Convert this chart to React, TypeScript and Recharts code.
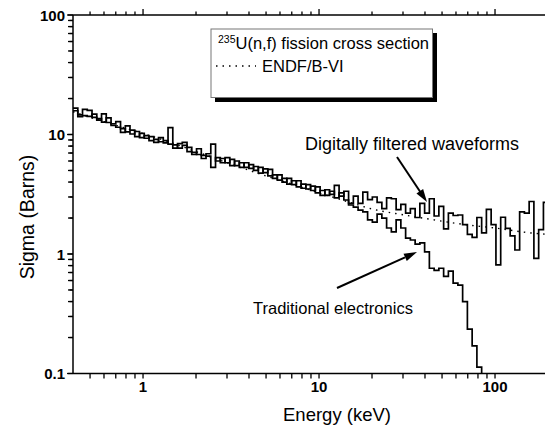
import React from 'react';
import { LineChart, Line, XAxis, YAxis, ReferenceLine } from 'recharts';

// Bin edges (keV)
const energies = [0.4, 0.426, 0.453, 0.482, 0.513, 0.546, 0.581, 0.618, 0.658, 0.7, 0.745, 0.793, 0.843, 0.897, 0.955, 1.016, 1.081, 1.151, 1.225, 1.303, 1.387, 1.476, 1.57, 1.671, 1.778, 1.892, 2.014, 2.143, 2.28, 2.427, 2.582, 2.748, 2.924, 3.112, 3.311, 3.524, 3.75, 3.99, 4.246, 4.519, 4.808, 5.117, 5.445, 5.794, 6.166, 6.561, 6.982, 7.43, 7.907, 8.414, 8.954, 9.528, 10.14, 10.79, 11.48, 12.22, 13.0, 13.84, 14.72, 15.67, 16.67, 17.74, 18.88, 20.09, 21.38, 22.75, 24.21, 25.76, 27.42, 29.17, 31.05, 33.04, 35.16, 37.41, 39.81, 42.36, 45.08, 47.97, 51.05, 54.33, 57.81, 61.52, 65.46, 69.66, 74.13, 78.89, 83.95, 89.33, 95.06, 101.2, 107.7, 114.6, 121.9, 129.7, 138.0, 146.9, 156.3, 166.3, 177.0, 188.4, 200];

// Digitally filtered waveforms (barns)
const digital = [15.8, 14.6, 16.2, 15.9, 13.9, 13.2, 14.9, 12.6, 12.3, 12.8,
  10.4, 11.8, 10.9, 9.6, 10.2, 9.3, 9.6, 9.1, 8.7, 8.5,
  11.4, 7.7, 8.4, 8.6, 7.2, 6.8, 7.6, 6.3, 6.9, 8.3,
  6.0, 6.3, 5.8, 6.2, 5.5, 5.8, 5.3, 5.6, 5.0, 5.3,
  4.8, 5.1, 4.3, 4.6, 4.0, 4.3, 3.8, 4.1, 3.55, 3.8,
  3.4, 3.65, 3.1, 3.45, 3.15, 3.75, 3.05, 3.35, 2.65, 3.05,
  2.65, 3.3, 2.85, 3.0, 2.7, 2.4, 2.95, 2.9, 2.35, 2.6,
  2.2, 2.4, 2.02, 2.65, 2.2, 2.9, 2.08, 2.5, 1.62, 2.2,
  2.1, 2.12, 1.76, 1.46, 1.38, 2.02, 1.5, 2.36, 1.76, 0.81,
  2.03, 1.64, 1.42, 1.08, 2.25, 2.2, 2.75, 0.92, 1.6, 2.7,
  2.7];

// Traditional electronics (barns)
const traditional = [16.6, 14.1, 14.4, 14.2, 14.8, 13.6, 12.7, 13.8, 11.9, 11.5,
  11.2, 10.5, 10.1, 10.6, 9.4, 9.8, 8.9, 8.6, 9.4, 8.9,
  8.3, 8.2, 7.7, 8.1, 7.8, 7.1, 6.8, 6.7, 6.6, 5.3,
  6.4, 5.8, 6.4, 5.5, 6.0, 5.3, 5.8, 5.2, 5.4, 4.75,
  5.15, 4.5, 4.6, 4.15, 4.3, 3.85, 4.1, 3.65, 3.85, 3.5,
  3.7, 3.25, 3.4, 3.1, 3.35, 2.95, 3.25, 2.83, 2.57, 2.47,
  2.33, 2.25, 1.93, 1.85, 2.16, 2.0, 1.65, 1.53, 1.93, 1.65,
  1.36, 1.31, 1.21, 1.24, 1.04, 0.76, 0.73, 0.76, 0.65, 0.72,
  0.57, 0.55, 0.4, 0.235, 0.17, 0.113, 0.1];

// ENDF/B-VI evaluation
const endfEnergy = [0.4, 0.6, 1, 1.5, 2, 3, 5, 7, 10, 15, 20, 30, 45, 70, 100, 160, 200];
const endfSigma = [15.5, 12.8, 10.2, 8.4, 7.2, 5.8, 4.5, 3.85, 3.25, 2.7, 2.38, 2.13, 1.93, 1.75, 1.65, 1.5, 1.46];

const xMajor = [1, 10, 100];
const xMinor = [0.5, 0.6, 0.7, 0.8, 0.9, 2, 3, 4, 5, 6, 7, 8, 9, 20, 30, 40, 50, 60, 70, 80, 90, 200];
const xAll = [0.5, 0.6, 0.7, 0.8, 0.9, 1, 2, 3, 4, 5, 6, 7, 8, 9, 10, 20, 30, 40, 50, 60, 70, 80, 90, 100, 200];
const yAll = [0.1, 0.2, 0.3, 0.4, 0.5, 0.6, 0.7, 0.8, 0.9, 1, 2, 3, 4, 5, 6, 7, 8, 9, 10, 20, 30, 40, 50, 60, 70, 80, 90, 100];

const digitalData = energies.map((e, i) => ({ e, v: digital[i] }));
const traditionalData = traditional.map((v, i) => ({ e: energies[i], v }));
const endfData = endfEnergy.map((e, i) => ({ e, v: endfSigma[i] }));

const FONT = '"Liberation Sans", Arial, Helvetica, sans-serif';
const tickLine = { stroke: '#000', strokeWidth: 1.3 };
const axisLine = { stroke: '#000', strokeWidth: 1.5 };
const X_DOMAIN: [number, number] = [0.4, 200];
const Y_DOMAIN: [number, number] = [0.1, 100];
// energies just left of the axis start, used as the outer end of the left tick marks
const TICK_OUT_MAJOR = 0.37;
const TICK_OUT_MINOR = 0.382;
const isMajor = (v: number) => Math.abs(Math.log10(v) - Math.round(Math.log10(v))) < 1e-6;
const majorOnly = (v: number) => (isMajor(v) ? String(v) : '');
const tickFont = { fontFamily: FONT, fontWeight: 'bold', fontSize: 15, fill: '#000' };

const NoLabel = () => <g />;

const YLabel = (props: any) => {
  const { x, y, payload } = props;
  if (!isMajor(payload.value)) return <g />;
  return (
    <text x={x - 3} y={y + 5.5} textAnchor="end" fontFamily={FONT} fontWeight="bold" fontSize={15} fill="#000">
      {String(payload.value)}
    </text>
  );
};

function arrowHead(x1: number, y1: number, x2: number, y2: number, len = 13, half = 4) {
  const dx = x2 - x1;
  const dy = y2 - y1;
  const d = Math.hypot(dx, dy);
  const ux = dx / d;
  const uy = dy / d;
  const bx = x2 - ux * len;
  const by = y2 - uy * len;
  return `${x2},${y2} ${bx - uy * half},${by + ux * half} ${bx + uy * half},${by - ux * half}`;
}

const Arrow = ({ x1, y1, x2, y2 }: { x1: number; y1: number; x2: number; y2: number }) => (
  <g>
    <line x1={x1} y1={y1} x2={x2 - (x2 - x1) * 0.15} y2={y2 - (y2 - y1) * 0.15} stroke="#000" strokeWidth={2} />
    <polygon points={arrowHead(x1, y1, x2, y2)} fill="#000" />
  </g>
);

export default function App() {
  return (
    <div style={{ position: 'fixed', left: 0, top: 0, width: 545, height: 428, overflow: 'hidden', background: '#fff' }}>
      <div style={{ position: 'absolute', left: 0, top: 0 }}>
        <LineChart width={560} height={428} margin={{ top: 15, right: 12, bottom: 0, left: 73 }}>
          <XAxis xAxisId="b" orientation="bottom" type="number" dataKey="e" scale="log" domain={X_DOMAIN}
            allowDataOverflow ticks={xAll} interval={0} height={54.5} tickSize={5} tickMargin={3}
            tickFormatter={majorOnly} tick={tickFont} tickLine={tickLine} axisLine={axisLine} stroke="#000" />
          <XAxis xAxisId="t1" orientation="top" type="number" dataKey="e" scale="log" domain={X_DOMAIN}
            allowDataOverflow ticks={xMajor} interval={0} height={0.001} tickSize={6} tickMargin={0}
            tick={NoLabel} tickLine={tickLine} axisLine={false} />
          <XAxis xAxisId="t0" orientation="top" type="number" dataKey="e" scale="log" domain={X_DOMAIN}
            allowDataOverflow ticks={xMinor} interval={0} height={0.001} tickSize={3.5} tickMargin={0}
            tick={NoLabel} tickLine={tickLine} axisLine={axisLine} />
          <YAxis yAxisId="l" orientation="left" type="number" scale="log" domain={Y_DOMAIN}
            allowDataOverflow ticks={yAll} interval={0} width={0.001} tickSize={5} tickMargin={0}
            tick={(p: any) => <YLabel {...p} />} tickLine={tickLine} axisLine={axisLine} stroke="#000" />
          {yAll.map((v) => (
            <ReferenceLine
              key={`yt-${v}`}
              xAxisId="b"
              yAxisId="l"
              segment={[{ x: isMajor(v) ? TICK_OUT_MAJOR : TICK_OUT_MINOR, y: v }, { x: 0.4, y: v }]}
              ifOverflow="visible"
              stroke="#000"
              strokeWidth={1.3}
            />
          ))}
          <Line xAxisId="t0" yAxisId="l" data={endfData} dataKey="v" type="monotone" stroke="#000"
            strokeWidth={1.4} strokeDasharray="1.5 5" dot={false} isAnimationActive={false} />
          <Line xAxisId="b" yAxisId="l" data={traditionalData} dataKey="v" type="stepAfter" stroke="#000"
            strokeWidth={1.7} dot={false} isAnimationActive={false} />
          <Line xAxisId="b" yAxisId="l" data={digitalData} dataKey="v" type="stepAfter" stroke="#000"
            strokeWidth={1.7} dot={false} isAnimationActive={false} />
        </LineChart>
      </div>
      <svg width={545} height={428} style={{ position: 'absolute', left: 0, top: 0, pointerEvents: 'none' }} fontFamily={FONT}>
        <rect x={215} y={97.5} width={222} height={4.5} fill="#000" />
        <rect x={432.5} y={33} width={4.5} height={69} fill="#000" />
        <rect x={211} y={29} width={221.5} height={68.5} fill="#fff" stroke="#777" strokeWidth={1} />
        <text x={218} y={49} fontSize={16.5} fill="#000">
          <tspan fontSize={10.5} dy={-6}>235</tspan>
          <tspan dy={6}>U(n,f) fission cross section</tspan>
        </text>
        <line x1={216} x2={256} y1={66} y2={66} stroke="#000" strokeWidth={1.4} strokeDasharray="1.5 5" />
        <text x={262} y={72} fontSize={16.5} fill="#000">ENDF/B-VI</text>
        <text x={305} y={150} fontSize={18} fill="#000">Digitally filtered waveforms</text>
        <Arrow x1={397} y1={157} x2={427} y2={202} />
        <text x={253} y={314} fontSize={16.5} fill="#000">Traditional electronics</text>
        <Arrow x1={337} y1={288} x2={417} y2={252} />
        <text x={337} y={421} fontSize={18.5} textAnchor="middle" fill="#000">Energy (keV)</text>
        <text x={0} y={0} fontSize={19.5} textAnchor="middle" fill="#000" transform="translate(34,217) rotate(-90)">Sigma (Barns)</text>
      </svg>
    </div>
  );
}
